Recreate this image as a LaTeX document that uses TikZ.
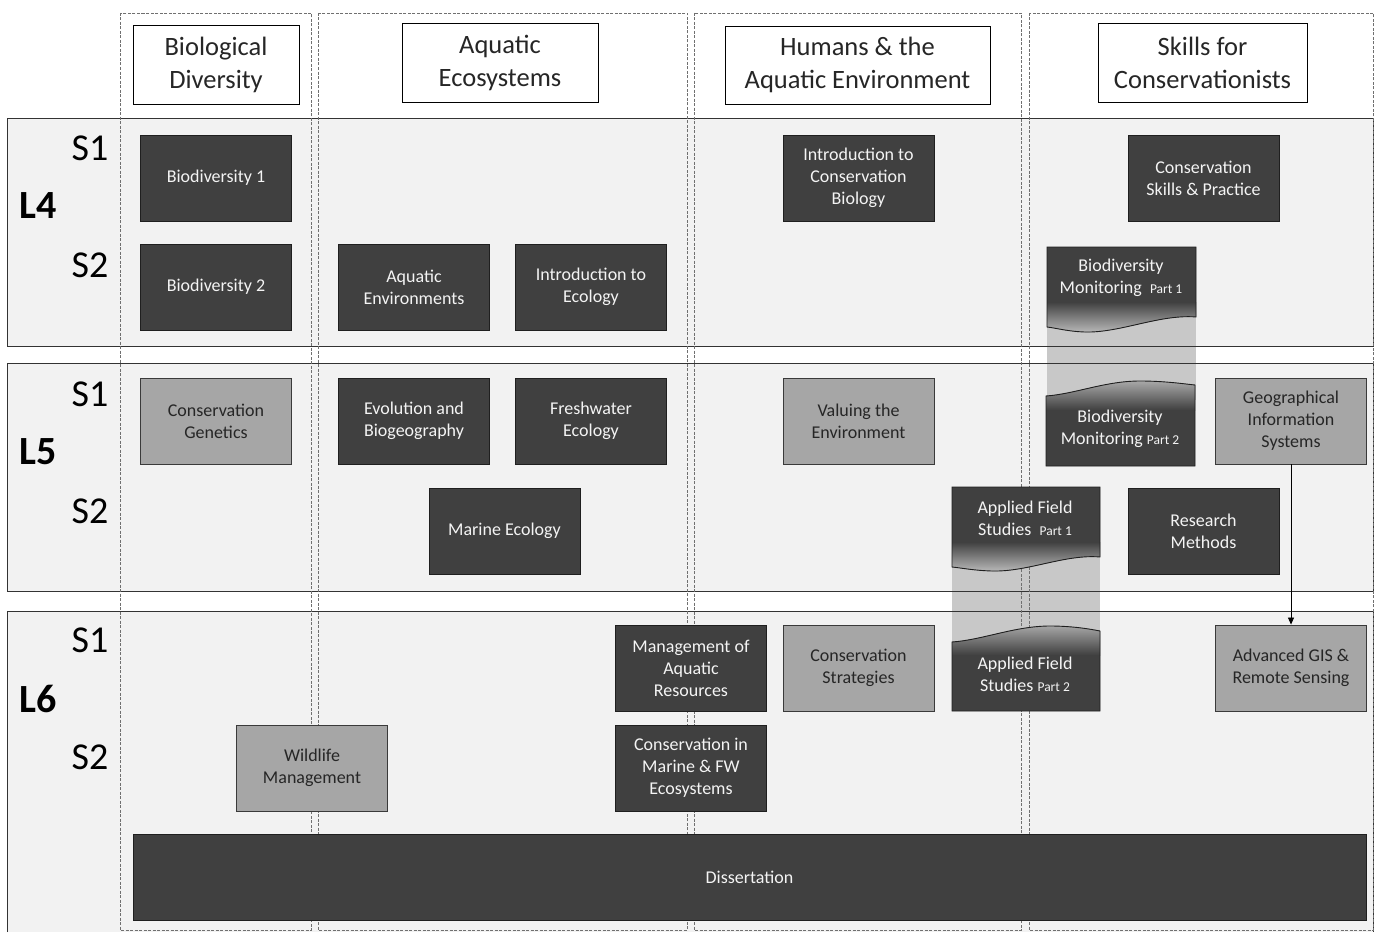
\documentclass[tikz,border=0pt]{standalone}
\usepackage{fontspec}
\setmainfont{Carlito}
\usetikzlibrary{arrows.meta}
\definecolor{bandfill}{HTML}{F2F2F2}
\definecolor{bandline}{HTML}{333333}
\definecolor{dkfill}{HTML}{404040}
\definecolor{dkline}{HTML}{1F1F1F}
\definecolor{mdfill}{HTML}{A6A6A6}
\definecolor{mdline}{HTML}{3A3A3A}
\definecolor{linkfill}{HTML}{C8C8C8}
\definecolor{colline}{HTML}{707070}
\definecolor{txtdark}{HTML}{262626}
\definecolor{txtlight}{HTML}{F4F4F4}
\tikzset{
  modbase/.style={rectangle, minimum width=151, minimum height=86, align=center, inner sep=2pt,
     font=\fontsize{18}{22}\selectfont, line width=0.9pt},
  dk/.style={modbase, fill=dkfill, draw=dkline, text=txtlight},
  md/.style={modbase, fill=mdfill, draw=mdline, text=txtdark},
  hdr/.style={rectangle, fill=white, draw=black, line width=0.9pt, align=center,
     font=\fontsize{26.5}{33}\selectfont, text=txtdark},
  semlab/.style={font=\fontsize{38}{40}\selectfont, text=black},
  levlab/.style={font=\bfseries\fontsize{40}{42}\selectfont, text=black},
  colbox/.style={draw=colline, line width=0.6pt, dash pattern=on 3pt off 1.5pt},
  wavetxt/.style={align=center, font=\fontsize{18}{22}\selectfont, text=txtlight},
}
\newcommand{\partlab}[1]{{\fontsize{13.5}{15}\selectfont #1}}
\begin{document}
\begin{tikzpicture}[x=1pt,y=-1pt]
\useasboundingbox (0,0) rectangle (1378,934);
\fill[white] (0,0) rectangle (1378,934);
% level band fills
\fill[bandfill] (7,118) rectangle (1373,346);
\fill[bandfill] (7,363) rectangle (1373,591);
\fill[bandfill] (7,611) rectangle (1373,932);
% linking grey bands
\fill[linkfill] (1047,310) rectangle (1196,400);
\fill[linkfill] (952,550) rectangle (1100,645);
% band borders
\draw[bandline, line width=1pt] (7,118) rectangle (1373,346);
\draw[bandline, line width=1pt] (7,363) rectangle (1373,591);
\draw[bandline, line width=1pt] (7,932) -- (7,611) -- (1373,611) -- (1373,932);
% dashed columns
\draw[colbox] (120,13) rectangle (311,930);
\draw[colbox] (318,13) rectangle (687,930);
\draw[colbox] (694,13) rectangle (1021,930);
\draw[colbox] (1029,13) rectangle (1373,930);
% headers
\node[hdr, minimum width=166, minimum height=79] (h1) at (216,64.5) {Biological\\Diversity};
\node[hdr, minimum width=196, minimum height=79] (h2) at (500,62.5) {Aquatic\\Ecosystems};
\node[hdr, minimum width=265, minimum height=78] (h3) at (857.5,65) {Humans \& the\\Aquatic Environment};
\node[hdr, minimum width=209, minimum height=79] (h4) at (1202.5,62.5) {Skills for\\Conservationists};
% level labels
\node[semlab] (l4s1) at (90,148) {S1};
\node[levlab] (l4) at (38,206) {L4};
\node[semlab] (l4s2) at (90,265) {S2};
\node[semlab] (l5s1) at (90,394) {S1};
\node[levlab] (l5) at (38,452) {L5};
\node[semlab] (l5s2) at (90,511) {S2};
\node[semlab] (l6s1) at (90,640) {S1};
\node[levlab] (l6) at (38,699) {L6};
\node[semlab] (l6s2) at (90,757) {S2};
% modules L4
\node[dk] (b1) at (216,178) {Biodiversity 1};
\node[dk] (b2) at (216,287) {Biodiversity 2};
\node[dk] (aqenv) at (414,287) {Aquatic\\Environments};
\node[dk] (introeco) at (591,287) {Introduction to\\Ecology};
\node[dk] (icb) at (858.5,178) {Introduction to\\Conservation\\Biology};
\node[dk] (csp) at (1203.5,178) {Conservation\\Skills \& Practice};
% modules L5
\node[md] (cgen) at (216,421) {Conservation\\Genetics};
\node[dk] (evo) at (414,421) {Evolution and\\Biogeography};
\node[dk] (fresh) at (591,421) {Freshwater\\Ecology};
\node[md] (valu) at (858.5,421) {Valuing the\\Environment};
\node[md] (gis) at (1291,421) {Geographical\\Information\\Systems};
\node[dk] (marine) at (504.5,531) {Marine Ecology};
\node[dk] (rm) at (1203.5,531) {Research\\Methods};
% modules L6
\node[dk] (mar) at (691,668) {Management of\\Aquatic\\Resources};
\node[md] (cs) at (858.5,668) {Conservation\\Strategies};
\node[md] (adv) at (1291,668) {Advanced GIS \&\\Remote Sensing};
\node[md] (wild) at (312,768) {Wildlife\\Management};
\node[dk] (cmfw) at (691,768) {Conservation in\\Marine \& FW\\Ecosystems};
\node[dk, minimum width=1233] (diss) at (749.5,877) {Dissertation};
% wavy boxes: Biodiversity Monitoring Part 1
\def\bmA{(1047,247) -- (1196,247) -- (1196,317) .. controls (1160,314) and (1120,333) .. (1085,332) .. controls (1068,331.5) and (1056,328) .. (1047,327) -- cycle}
\fill[dkfill] \bmA;
\begin{scope}\clip \bmA; \shade[top color=dkfill, bottom color=black!25] (1040,302) rectangle (1200,334);\end{scope}
\draw[dkline, line width=0.9pt] \bmA;
\node[wavetxt] (bm1) at (1121,278) {Biodiversity\\Monitoring~ \partlab{Part 1}};
% Biodiversity Monitoring Part 2
\def\bmB{(1046,396) .. controls (1075,394) and (1105,381) .. (1140,381) .. controls (1165,381) and (1185,384) .. (1195,385) -- (1195,466) -- (1046,466) -- cycle}
\fill[dkfill] \bmB;
\begin{scope}\clip \bmB; \shade[top color=black!30, bottom color=dkfill] (1040,378) rectangle (1200,410);\end{scope}
\draw[dkline, line width=0.9pt] \bmB;
\node[wavetxt] (bm2) at (1120,429) {Biodiversity\\Monitoring \partlab{Part 2}};
% Applied Field Studies Part 1
\def\afA{(952,487) -- (1100,487) -- (1100,557) .. controls (1065,554) and (1028,572) .. (992,571) .. controls (974,570.5) and (962,568) .. (952,567) -- cycle}
\fill[dkfill] \afA;
\begin{scope}\clip \afA; \shade[top color=dkfill, bottom color=black!25] (945,542) rectangle (1105,573);\end{scope}
\draw[dkline, line width=0.9pt] \afA;
\node[wavetxt] (af1) at (1025,518) {Applied Field\\Studies~ \partlab{Part 1}};
% Applied Field Studies Part 2
\def\afB{(952,642) .. controls (982,640) and (1015,626) .. (1050,626) .. controls (1072,626) and (1090,629) .. (1100,631) -- (1100,711) -- (952,711) -- cycle}
\fill[dkfill] \afB;
\begin{scope}\clip \afB; \shade[top color=black!30, bottom color=dkfill] (945,622) rectangle (1105,655);\end{scope}
\draw[dkline, line width=0.9pt] \afB;
\node[wavetxt] (af2) at (1025,674) {Applied Field\\Studies \partlab{Part 2}};
% arrow
\draw[black, line width=0.8pt, -{Triangle[length=7pt,width=6pt]}] (gis.south) -- (adv.north);
\end{tikzpicture}
\end{document}
